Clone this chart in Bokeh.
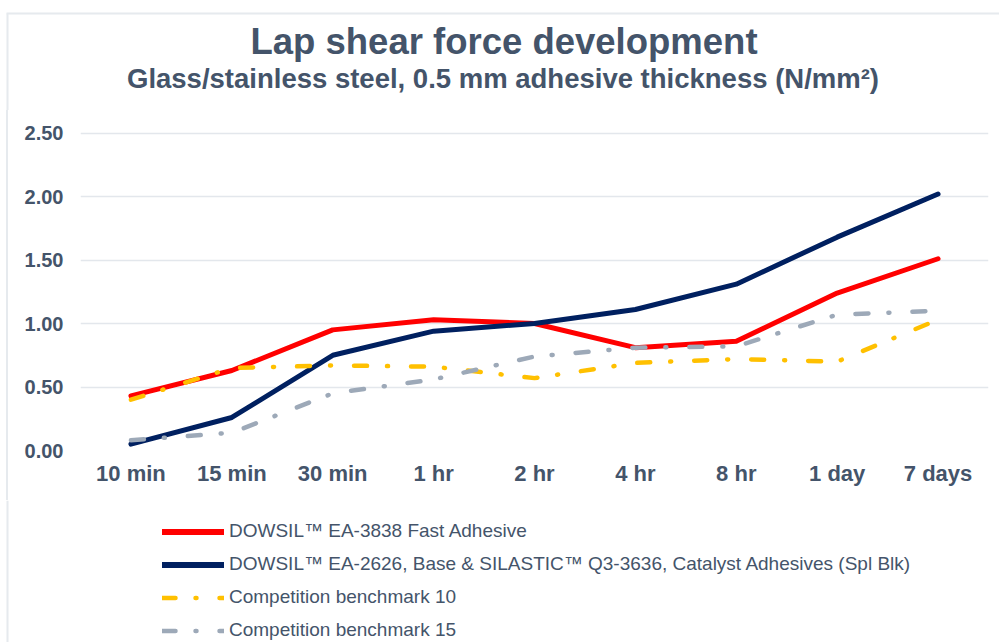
from bokeh.plotting import figure
from bokeh.layouts import column, row
from bokeh.models import (Range1d, FactorRange, Legend, LegendItem, Label, Spacer,
                          NumeralTickFormatter, FixedTicker)
from bokeh.embed import file_html
from bokeh.resources import INLINE

categories = ["10 min", "15 min", "30 min", "1 hr", "2 hr", "4 hr", "8 hr", "1 day", "7 days"]
fast_adhesive = [0.43, 0.63, 0.95, 1.03, 1.00, 0.81, 0.86, 1.24, 1.51]
ea2626 = [0.05, 0.26, 0.75, 0.94, 1.00, 1.11, 1.31, 1.68, 2.02]
benchmark10 = [0.40, 0.65, 0.67, 0.66, 0.57, 0.69, 0.72, 0.70, 1.03]
benchmark15 = [0.08, 0.14, 0.45, 0.56, 0.74, 0.81, 0.82, 1.07, 1.10]
y_ticks = [0.0, 0.5, 1.0, 1.5, 2.0, 2.5]
series_names = [
    "DOWSIL\u2122 EA-3838 Fast Adhesive",
    "DOWSIL\u2122 EA-2626, Base & SILASTIC\u2122 Q3-3636, Catalyst Adhesives (Spl Blk)",
    "Competition benchmark 10",
    "Competition benchmark 15",
]
title_text = "Lap shear force development"
subtitle_text = "Glass/stainless steel, 0.5 mm adhesive thickness (N/mm\u00b2)"

TEXT = "#44546A"
FONT = "Liberation Sans"
BORDER = "#E6EAEE"
COLORS = ["#FF0000", "#002060", "#FFC000", "#9DA9B8"]
DASHES = ["solid", "solid", "13 20 1 23", "13 20 1 23"]
WIDTHS = [5, 5, 4.5, 4.5]

TOP_H, MAIN_H, LEG_H = 110, 390, 142


def blank(width, height):
    f = figure(width=width, height=height, x_range=Range1d(0, width),
               y_range=Range1d(height, 0), output_backend="svg", toolbar_location=None,
               x_axis_type=None, y_axis_type=None, min_border=0)
    f.grid.visible = False
    f.outline_line_color = None
    f.background_fill_color = "white"
    f.border_fill_color = "white"
    return f


# ---- title strip ----
top = blank(999, TOP_H)
top.segment(x0=[6, 7], y0=[13, 13], x1=[999, 7], y1=[13, TOP_H],
            line_color=BORDER, line_width=2)
top.add_layout(Label(x=503.5, y=41, text=title_text, text_align="center",
                     text_baseline="alphabetic", text_font=FONT, text_font_size="36.5px",
                     text_font_style="bold", text_color=TEXT))
top.add_layout(Label(x=502.5, y=78, text=subtitle_text, text_align="center",
                     text_baseline="alphabetic", text_font=FONT, text_font_size="27.5px",
                     text_font_style="bold", text_color=TEXT))

# ---- left border beside the chart (plain layout boxes, not a plot) ----
pad = Spacer(width=6, height=MAIN_H, styles={"background-color": "white"})
bar = Spacer(width=2, height=MAIN_H, styles={"background-color": BORDER})

# ---- main chart ----
p = figure(width=991, height=MAIN_H, x_range=FactorRange(factors=categories, range_padding=0),
           y_range=Range1d(0, 2.52), output_backend="svg", toolbar_location=None,
           min_border_left=72, min_border_right=11, min_border_top=20, min_border_bottom=50)
p.title = None
p.outline_line_color = None
p.background_fill_color = "white"
p.border_fill_color = "white"
p.xgrid.grid_line_color = None
p.ygrid.grid_line_color = "#E3E7EC"
p.ygrid.grid_line_width = 1.5
p.yaxis.ticker = FixedTicker(ticks=y_ticks)
p.yaxis.formatter = NumeralTickFormatter(format="0.00")
for ax in (p.xaxis[0], p.yaxis[0]):
    ax.axis_line_color = None
    ax.major_tick_line_color = None
    ax.minor_tick_line_color = None
    ax.major_label_text_font = FONT
    ax.major_label_text_font_style = "bold"
    ax.major_label_text_color = TEXT
p.yaxis.major_label_text_font_size = "20px"
p.yaxis.major_label_standoff = 11
p.xaxis.major_label_text_font_size = "22px"
p.xaxis.major_label_standoff = 4

for vals, c, d, w in zip([fast_adhesive, ea2626, benchmark10, benchmark15], COLORS, DASHES, WIDTHS):
    p.line(categories, vals, line_color=c, line_width=w, line_dash=d,
           line_cap="round", line_join="round")

# ---- legend strip ----
leg = blank(999, LEG_H)
leg.segment(x0=[7], y0=[0], x1=[7], y1=[LEG_H], line_color=BORDER, line_width=2)
items = []
nan = float("nan")
for n, c, d, w in zip(series_names, COLORS, DASHES, [6, 6, 4.5, 4.5]):
    r = leg.line(x=[nan, nan], y=[nan, nan], line_color=c, line_width=w, line_dash=d,
                 line_cap="round")
    items.append(LegendItem(label=n, renderers=[r]))
legend = Legend(items=items, location=(162, 1), glyph_width=62, glyph_height=21,
                label_height=21, label_standoff=5, spacing=11, padding=0, margin=0,
                border_line_color=None, background_fill_alpha=0,
                label_text_font=FONT, label_text_font_size="19px", label_text_color=TEXT)
leg.add_layout(legend, "center")

layout = column(top, row(pad, bar, p), leg)
open("out.html", "w").write(file_html(layout, INLINE))
